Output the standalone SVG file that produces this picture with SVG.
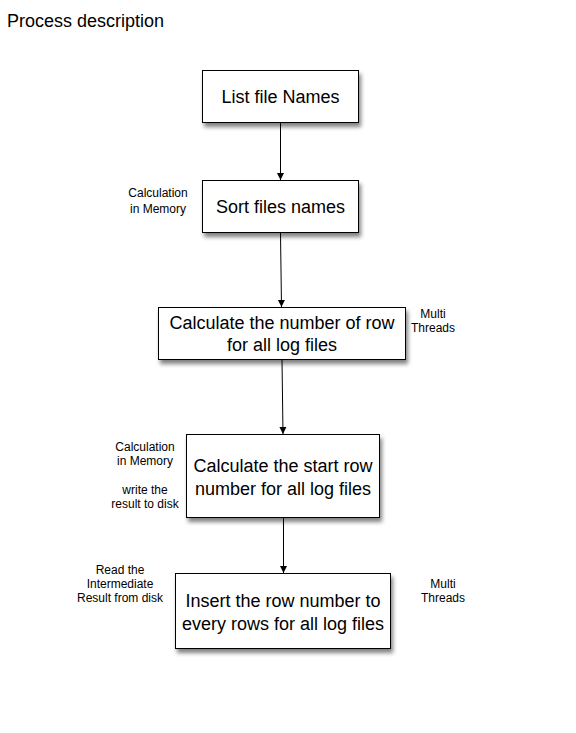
<svg xmlns="http://www.w3.org/2000/svg" width="576" height="733" viewBox="0 0 576 733">
<defs>
<filter id="sh" x="-20%" y="-20%" width="140%" height="150%">
<feGaussianBlur in="SourceAlpha" stdDeviation="2"/>
<feOffset dx="2" dy="4" result="o"/>
<feComponentTransfer><feFuncA type="linear" slope="0.5"/></feComponentTransfer>
<feMerge><feMergeNode/><feMergeNode in="SourceGraphic"/></feMerge>
</filter>
<marker id="arr" markerWidth="8" markerHeight="8" refX="7" refY="4" orient="auto" markerUnits="userSpaceOnUse">
<path d="M0,0.5 L7,4 L0,7.5 Z" fill="#000"/>
</marker>
</defs>
<style>
.box{fill:#fff;stroke:#000;stroke-width:1;filter:url(#sh)}
.t{font-family:"Liberation Sans",Arial,sans-serif;font-size:18px;text-anchor:middle;fill:#000}
.s{font-family:"Liberation Sans",Arial,sans-serif;font-size:12px;text-anchor:middle;fill:#000}
.c{stroke:#000;stroke-width:1;fill:none;marker-end:url(#arr)}
</style>
<rect width="576" height="733" fill="#fff"/>
<text x="7" y="27" style="font-family:'Liberation Sans',Arial,sans-serif;font-size:18px">Process description</text>
<g id="connectors">
<line class="c" x1="280.5" y1="123" x2="280.5" y2="180"/>
<line class="c" x1="280.5" y1="233" x2="281.5" y2="307"/>
<line class="c" x1="282" y1="360" x2="283" y2="434"/>
<line class="c" x1="283.5" y1="518" x2="283.5" y2="573"/>
</g>
<g id="n1">
<rect class="box" x="202.5" y="70.5" width="156" height="52"/>
<text class="t" x="280.5" y="103">List file Names</text>
</g>
<g id="n2">
<rect class="box" x="202.5" y="180.5" width="156" height="52"/>
<text class="t" x="280.5" y="213">Sort files names</text>
<text class="s" x="158" y="197">Calculation</text>
<text class="s" x="158" y="213">in Memory</text>
</g>
<g id="n3">
<rect class="box" x="158.5" y="307.5" width="247" height="52"/>
<text class="t" x="282" y="329">Calculate the number of row</text>
<text class="t" x="282" y="351">for all log files</text>
<text class="s" x="433" y="318">Multi</text>
<text class="s" x="433" y="332">Threads</text>
</g>
<g id="n4">
<rect class="box" x="186.5" y="434.5" width="193" height="83"/>
<text class="t" x="283" y="472">Calculate the start row</text>
<text class="t" x="283" y="495">number for all log files</text>
<text class="s" x="145" y="451">Calculation</text>
<text class="s" x="145" y="465">in Memory</text>
<text class="s" x="145" y="494">write the</text>
<text class="s" x="145" y="508">result to disk</text>
</g>
<g id="n5">
<rect class="box" x="175.5" y="573.5" width="215" height="75"/>
<text class="t" x="283" y="607">Insert the row number to</text>
<text class="t" x="283" y="630">every rows for all log files</text>
<text class="s" x="120" y="574">Read the</text>
<text class="s" x="120" y="588">Intermediate</text>
<text class="s" x="120" y="602">Result from disk</text>
<text class="s" x="443" y="588">Multi</text>
<text class="s" x="443" y="602">Threads</text>
</g>
</svg>
